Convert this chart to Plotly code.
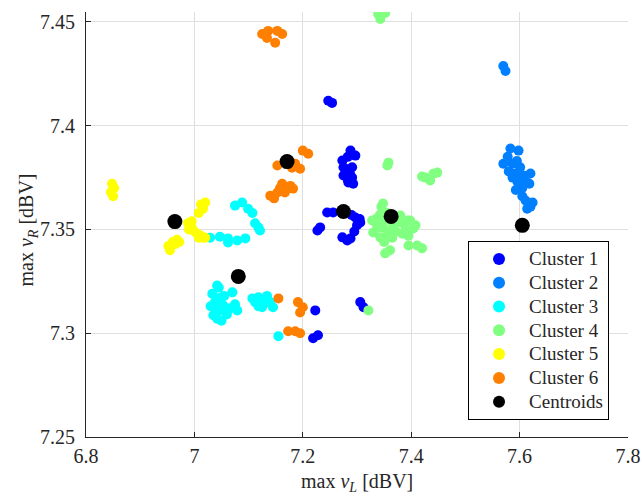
import plotly.graph_objects as go

# Cluster data (max v_L, max v_R) in dBV
c1_x = [7.247, 7.254, 7.288, 7.297, 7.273, 7.275, 7.291, 7.275, 7.291, 7.284, 7.278,
        7.283, 7.280, 7.287, 7.283, 7.293,
        7.245, 7.256, 7.297, 7.306, 7.300, 7.290, 7.295, 7.305,
        7.227, 7.232, 7.273, 7.288, 7.282,
        7.306, 7.312, 7.223, 7.219, 7.228]
c1_y = [7.412, 7.411, 7.388, 7.3856, 7.3832, 7.380, 7.380, 7.376, 7.375, 7.3726, 7.377,
        7.385, 7.379, 7.377, 7.374, 7.372,
        7.3582, 7.3582, 7.3558, 7.3534, 7.352, 7.357, 7.349, 7.355,
        7.3495, 7.351, 7.3462, 7.3457, 7.3447,
        7.315, 7.3125, 7.311, 7.2976, 7.299]

c2_x = [7.570, 7.574, 7.583, 7.598, 7.570, 7.587, 7.601, 7.592, 7.607, 7.620, 7.614,
        7.601, 7.587, 7.578, 7.595, 7.580, 7.596, 7.605, 7.593, 7.618,
        7.611, 7.624, 7.614, 7.605, 7.620]
c2_y = [7.4288, 7.4264, 7.389, 7.388, 7.3817, 7.3817, 7.380, 7.377, 7.376, 7.377, 7.3726,
        7.3721, 7.375, 7.385, 7.383, 7.378, 7.373, 7.370, 7.369, 7.372,
        7.364, 7.363, 7.360, 7.366, 7.361]

c3_x = [7.075, 7.088, 7.099, 7.107, 7.112, 7.121, 7.118,
        7.029, 7.047, 7.062, 7.079, 7.094, 7.062,
        7.042, 7.033, 7.047, 7.070, 7.035, 7.047, 7.053, 7.079, 7.042,
        7.038, 7.045, 7.055, 7.040, 7.060, 7.065, 7.075, 7.050, 7.030,
        7.107, 7.118, 7.134, 7.125, 7.145, 7.136, 7.112, 7.128, 7.140, 7.118,
        7.155]
c3_y = [7.3615, 7.363, 7.360, 7.358, 7.353, 7.3495, 7.351,
        7.346, 7.3465, 7.3457, 7.3447, 7.3457, 7.3437,
        7.323, 7.319, 7.317, 7.3197, 7.3087, 7.311, 7.3135, 7.311, 7.307,
        7.315, 7.322, 7.318, 7.311, 7.309, 7.312, 7.314, 7.306, 7.313,
        7.3168, 7.3173, 7.318, 7.3125, 7.3125, 7.315, 7.315, 7.316, 7.315, 7.313,
        7.2986]

c4_x = [7.339, 7.352, 7.343, 7.358, 7.356, 7.426, 7.441, 7.448, 7.435, 7.420,
        7.348, 7.328, 7.337, 7.348, 7.367, 7.385, 7.398, 7.404, 7.384, 7.343, 7.330,
        7.352, 7.380, 7.393,
        7.335, 7.342, 7.356, 7.372, 7.360, 7.372, 7.390, 7.365, 7.355, 7.340, 7.375,
        7.395, 7.408, 7.350, 7.345,
        7.352, 7.361, 7.395, 7.411, 7.420, 7.321]
c4_y = [7.4538, 7.4543, 7.4514, 7.3822, 7.3808, 7.375, 7.3769, 7.3774, 7.3736, 7.3755,
        7.3625, 7.3543, 7.352, 7.351, 7.352, 7.3529, 7.3543, 7.3505, 7.348, 7.3462, 7.3486,
        7.3543, 7.3567, 7.3543,
        7.355, 7.357, 7.358, 7.355, 7.349, 7.349, 7.350, 7.346, 7.347, 7.351, 7.3535,
        7.347, 7.352, 7.344, 7.361,
        7.3385, 7.340, 7.3423, 7.3423, 7.3409, 7.311]

c5_x = [6.848, 6.852, 6.846, 6.850,
        7.012, 7.020, 7.008, 7.016,
        6.988, 6.995, 7.000, 7.005, 7.012, 7.020, 6.995, 6.990, 7.008, 7.015,
        6.952, 6.960, 6.968, 6.955, 6.965, 6.972]
c5_y = [7.372, 7.370, 7.368, 7.366,
        7.362, 7.363, 7.358, 7.360,
        7.353, 7.351, 7.349, 7.348, 7.347, 7.346, 7.354, 7.350, 7.346, 7.346,
        7.342, 7.344, 7.345, 7.340, 7.343, 7.344]

c6_x = [7.125, 7.136, 7.153, 7.162, 7.149, 7.134,
        7.200, 7.210, 7.153, 7.186, 7.195, 7.180,
        7.162, 7.177, 7.182, 7.140, 7.153, 7.167, 7.170, 7.158, 7.147,
        7.155, 7.191, 7.200, 7.195, 7.173, 7.186, 7.195]
c6_y = [7.4442, 7.4457, 7.4457, 7.4442, 7.440, 7.4423,
        7.388, 7.3865, 7.3808, 7.3817, 7.3793, 7.3798,
        7.372, 7.371, 7.3697, 7.3663, 7.3678, 7.3678, 7.370, 7.370, 7.365,
        7.3168, 7.315, 7.3125, 7.310, 7.301, 7.301, 7.300]

cent_x = [7.275, 7.605, 7.081, 7.363, 6.964, 7.171]
cent_y = [7.3587, 7.352, 7.3274, 7.3563, 7.3538, 7.3827]

names = ["Cluster 1", "Cluster 2", "Cluster 3", "Cluster 4", "Cluster 5", "Cluster 6"]
centroid_name = "Centroids"
colors = ["#0000FF", "#0080FF", "#00FFFF", "#80FF80", "#FFFF00", "#FF8000"]
xs = [c1_x, c2_x, c3_x, c4_x, c5_x, c6_x]
ys = [c1_y, c2_y, c3_y, c4_y, c5_y, c6_y]

x_ticks = [6.8, 7.0, 7.2, 7.4, 7.6, 7.8]
x_ticklabels = ["6.8", "7", "7.2", "7.4", "7.6", "7.8"]
y_ticks = [7.25, 7.3, 7.35, 7.4, 7.45]
y_ticklabels = ["7.25", "7.3", "7.35", "7.4", "7.45"]

FONT = "Liberation Serif"
TXT = "#262626"


def leg(t):
    # slightly larger legend text while keeping compact row spacing
    return '<span style="font-size:19px">' + t + '</span>'


fig = go.Figure()
for n, c, x, y in zip(names, colors, xs, ys):
    fig.add_trace(go.Scatter(x=x, y=y, mode="markers", name=leg(n),
                             marker=dict(color=c, size=10, line=dict(width=0))))
fig.add_trace(go.Scatter(x=cent_x, y=cent_y, mode="markers", name=leg(centroid_name),
                         marker=dict(color="black", size=15, line=dict(width=0))))

axis_common = dict(showline=True, linecolor=TXT, linewidth=1, mirror=False,
                   ticks="inside", ticklen=5, tickcolor=TXT, automargin=False,
                   showgrid=True, gridcolor="#dfdfdf", gridwidth=1,
                   zeroline=False, tickfont=dict(family=FONT, size=20, color=TXT))

fig.update_layout(
    width=642, height=497,
    paper_bgcolor="white", plot_bgcolor="white",
    margin=dict(l=86, r=14, t=12, b=60),
    font=dict(family=FONT, size=20, color=TXT),
    xaxis=dict(range=[6.8, 7.8], tickvals=x_ticks, ticktext=x_ticklabels,
               ticklabelstandoff=1, **axis_common),
    yaxis=dict(range=[7.25, 7.4548], tickvals=y_ticks, ticktext=y_ticklabels,
               ticklabelstandoff=6, **axis_common),
    legend=dict(x=0.965, y=0.04, xanchor="right", yanchor="bottom",
                bgcolor="white", bordercolor="black", borderwidth=1,
                font=dict(family=FONT, size=16, color=TXT),
                itemwidth=50, itemsizing="constant", tracegroupgap=0),
    showlegend=True,
    annotations=[
        dict(text="max <i>v</i><sub><i>L</i></sub> [dBV]", xref="paper", yref="paper",
             x=0.5, y=-0.106, xanchor="center", yanchor="middle", showarrow=False,
             font=dict(family=FONT, size=20, color=TXT)),
        dict(text="max <i>v</i><sub><i>R</i></sub> [dBV]", xref="paper", yref="paper",
             x=-0.108, y=0.487, xanchor="center", yanchor="middle", showarrow=False,
             textangle=-90, font=dict(family=FONT, size=20, color=TXT)),
    ],
)

fig.write_html("out.html", config={"displayModeBar": False},
               post_script="document.body.style.margin='0';document.body.style.padding='0';")
